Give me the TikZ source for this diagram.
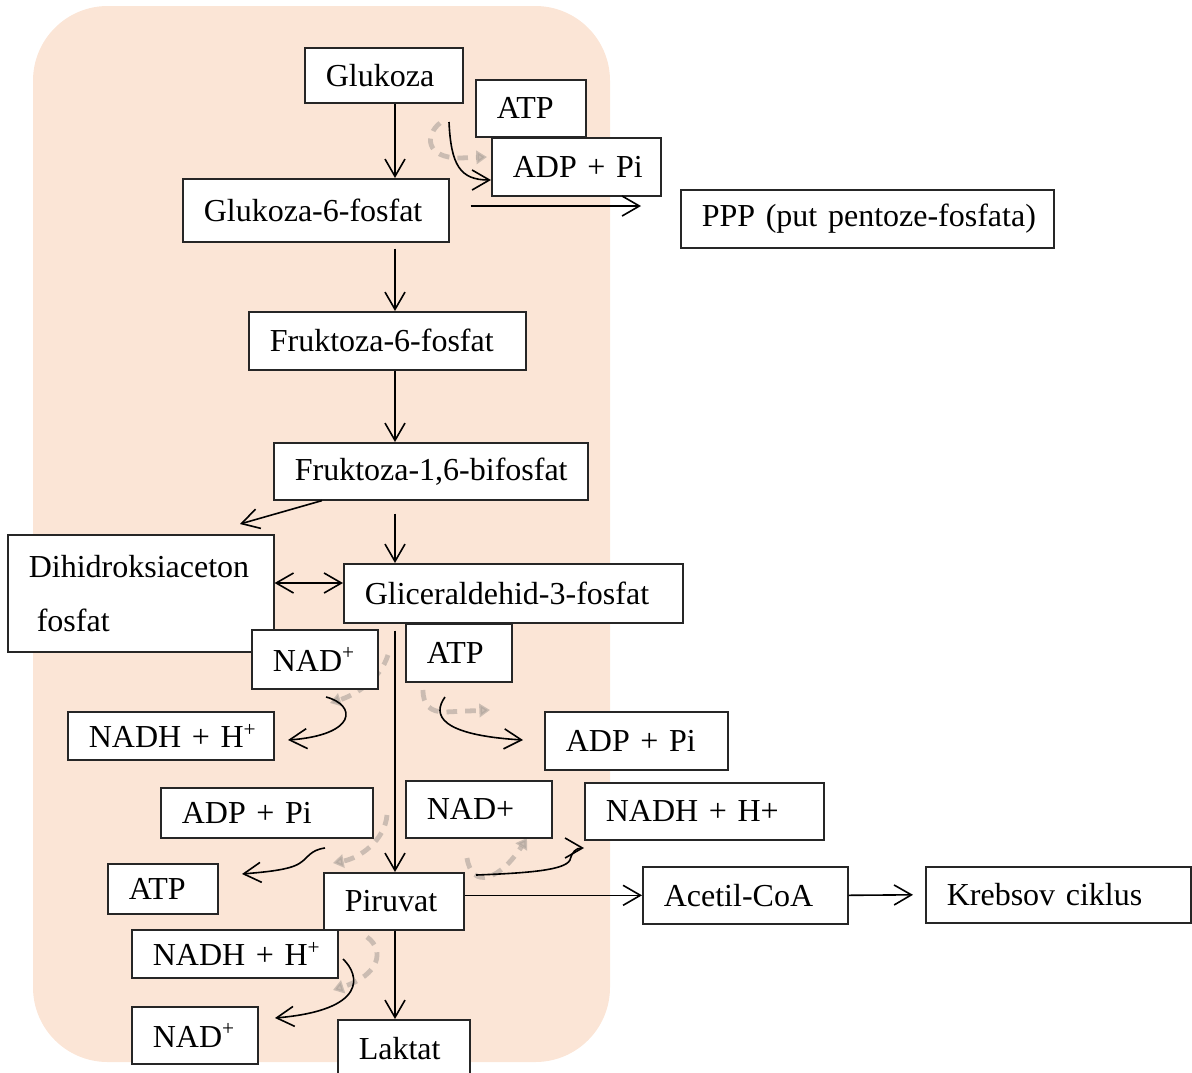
\documentclass[tikz,border=0pt]{standalone}
\usepackage{fontspec}
\setmainfont{Liberation Serif}
\usetikzlibrary{arrows.meta}

\definecolor{peach}{RGB}{251,229,214}
\definecolor{ghostgray}{RGB}{172,162,154}

\tikzset{
  box/.style={draw=black!85, line width=0.6pt, fill=white, anchor=north west,
    inner xsep=7.875pt, inner ysep=0pt, align=left, font=\fontsize{12}{14}\selectfont},
  arr/.style={-{Straight Barb[length=6.5pt,width=7.5pt]}, line width=0.6pt},
  arrboth/.style={{Straight Barb[length=6.5pt,width=7.5pt]}-{Straight Barb[length=6.5pt,width=7.5pt]}, line width=0.6pt},
  ghost/.style={draw=ghostgray, line width=1.8pt, dash pattern=on 4pt off 3pt, opacity=0.6,
    -{Triangle[length=4pt,width=5pt]}}
}

\begin{document}
\begin{tikzpicture}[x=0.375pt, y=-0.375pt]
  \useasboundingbox (0,0) rectangle (1192,1072);
  \clip (0,0) rectangle (1192,1072);

  % cell
  \fill[peach, rounded corners=28pt] (33,6) rectangle (610,1062);

  % faint dashed shadows
  \draw[ghost] (440,123) .. controls (425,135) and (425,158) .. (460,158) -- (487,157);
  \draw[ghost] (388,655) .. controls (380,680) and (355,695) .. (330,703);
  \draw[ghost] (423,690) .. controls (423,705) and (430,712) .. (445,712) -- (490,710);
  \draw[ghost] (387,815) .. controls (385,840) and (360,858) .. (333,863);
  \draw[ghost] (467,858) .. controls (472,890) and (500,880) .. (527,838);
  \draw[ghost] (367,937) .. controls (385,950) and (380,975) .. (333,990);

  % boxes
  \node[box, text width=43.5pt, minimum height=20.625pt] (glc) at (304,47) {\mbox{Glukoza}};
  \node[box, text width=25.5pt, minimum height=21.375pt] (atpA) at (475,79) {\mbox{ATP}};
  \node[box, text width=47.625pt, minimum height=21.75pt] (adpA) at (491,137) {\mbox{ADP + Pi}};
  \node[box, text width=84pt, minimum height=23.625pt] (g6f) at (182,178) {\mbox{Glukoza-6-fosfat}};
  \node[box, text width=124.125pt, minimum height=21.75pt] (ppp) at (680,189) {\mbox{PPP (put pentoze-fosfata)}};
  \node[box, text width=88.125pt, minimum height=21.75pt] (f6p) at (248,311) {\mbox{Fruktoza-6-fosfat}};
  \node[box, text width=102pt, minimum height=21.375pt] (f16) at (273,442) {\mbox{Fruktoza-1,6-bifosfat}};
  \node[box, text width=84pt, minimum height=43.875pt] (dhap) at (7,534) {\mbox{Dihidroksiaceton}\\[6.25pt]\hspace*{3pt}\mbox{fosfat}};
  \node[box, text width=111.375pt, minimum height=22.125pt] (gap) at (343,563) {\mbox{Gliceraldehid-3-fosfat}};
  \node[box, text width=31.5pt, minimum height=22.125pt] (nadA) at (251,629) {\mbox{NAD\textsuperscript{+}}};
  \node[box, text width=24pt, minimum height=21.75pt] (atpB) at (405,623) {\mbox{ATP}};
  \node[box, text width=61.5pt, minimum height=18pt] (nadhA) at (67,711) {\mbox{NADH + H\textsuperscript{+}}};
  \node[box, text width=52.875pt, minimum height=21.75pt] (adpB) at (544,711) {\mbox{ADP + Pi}};
  \node[box, text width=63.75pt, minimum height=18.75pt] (adpC) at (160,787) {\mbox{ADP + Pi}};
  \node[box, text width=39pt, minimum height=21.375pt] (nadB) at (405,780) {\mbox{NAD+}};
  \node[box, text width=73.875pt, minimum height=21.375pt] (nadhB) at (584,782) {\mbox{NADH + H+}};
  \node[box, text width=25.5pt, minimum height=18.75pt] (atpC) at (107,863) {\mbox{ATP}};
  \node[box, text width=36.75pt, minimum height=21.375pt] (pir) at (323,872) {\mbox{Piruvat}};
  \node[box, text width=61.125pt, minimum height=21.375pt] (acoa) at (642,866) {\mbox{Acetil-CoA}};
  \node[box, text width=83.625pt, minimum height=21pt] (krebs) at (925,866) {\mbox{Krebsov ciklus}};
  \node[box, text width=61.5pt, minimum height=18pt] (nadhC) at (131,929) {\mbox{NADH + H\textsuperscript{+}}};
  \node[box, text width=31.5pt, minimum height=21.375pt] (nadC) at (131,1006) {\mbox{NAD\textsuperscript{+}}};
  \node[box, text width=33.75pt, minimum height=21.75pt] (lak) at (337,1019) {\mbox{Laktat}};

  % main pathway
  \coordinate (axis) at (395,0);
  \draw[arr] (glc.south -| axis) -- (g6f.north -| axis);
  \draw[arr] (g6f.south -| axis) ++(0,6) -- (f6p.north -| axis);
  \draw[arr] (f6p.south -| axis) -- (f16.north -| axis);
  \draw[arr] (f16.south -| axis) ++(0,13) -- (gap.north -| axis);
  \draw[arr] (gap.south -| axis) ++(0,7) -- (pir.north -| axis);
  \draw[arr] (pir.south -| axis) -- (lak.north -| axis);

  % side branches
  \coordinate (pppin) at (641,206);
  \draw[arr] (g6f.east |- pppin) ++(21,0) -- (pppin);
  \coordinate (dhapin) at (240,524);
  \draw[arr] (f16.south west) ++(49,0) -- (dhapin);
  \coordinate (iso) at (0,583);
  \draw[arrboth] (dhap.east |- iso) -- (gap.west |- iso);
  \draw[arr] (pir.east |- acoa.west) -- (acoa.west);
  \draw[arr] (acoa.east) -- ([xshift=-4.5pt]krebs.west);

  % cofactors
  \coordinate (atpAout) at (449,122);
  \coordinate (adpAin) at (491,180);
  \draw[arr] (atpAout) .. controls (451,165) and (460,180) .. (adpAin);
  \coordinate (nadAout) at (326,697);
  \coordinate (nadhAin) at (288,740);
  \draw[arr] (nadAout) .. controls (357,705) and (357,735) .. (nadhAin);
  \coordinate (atpBout) at (445,697);
  \coordinate (adpBin) at (523,740);
  \draw[arr] (atpBout) .. controls (432,715) and (440,735) .. (adpBin);
  \coordinate (adpCout) at (325,848);
  \coordinate (atpCin) at (242,874);
  \draw[arr] (adpCout) .. controls (310,850) and (308,858) .. (300,863)
    .. controls (290,870) and (265,872) .. (atpCin);
  \coordinate (nadBout) at (476,875);
  \coordinate (nadhBin) at (584,848);
  \draw[arr] (nadBout) .. controls (530,873) and (565,870) .. (570,860)
    .. controls (572,852) and (576,848) .. (nadhBin);
  \coordinate (nadhCout) at (343,959);
  \coordinate (nadCin) at (275,1018);
  \draw[arr] (nadhCout) .. controls (360,975) and (368,1010) .. (nadCin);
\end{tikzpicture}
\end{document}
